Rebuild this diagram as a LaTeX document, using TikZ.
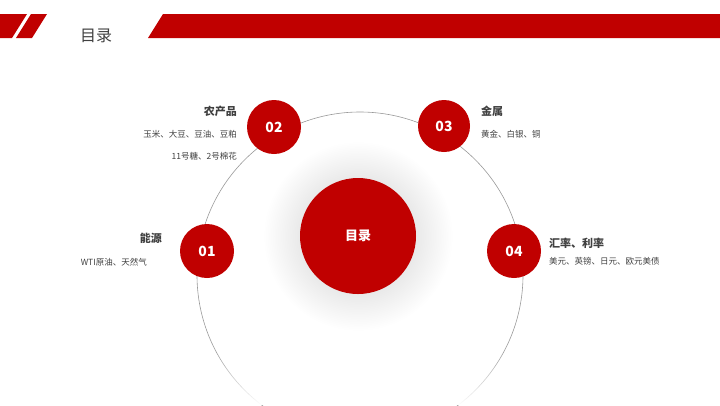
\documentclass[tikz,border=0pt]{standalone}
\usepackage{fontspec}
\setmainfont{Noto Sans CJK SC}
\usetikzlibrary{fadings}
\definecolor{rd}{HTML}{C00000}
\definecolor{tx}{HTML}{404040}
\tikzset{num/.style={circle,fill=rd,minimum size=54pt,inner sep=0,text=white,font=\bfseries\fontsize{14}{14}\selectfont},
head/.style={text=tx,font=\bfseries\fontsize{11}{11}\selectfont,inner sep=0},
sub/.style={text=tx,font=\fontsize{8.5}{8.5}\selectfont,inner sep=0}}
\begin{document}
\begin{tikzpicture}[x=1pt,y=-1pt]
\useasboundingbox (0,0) rectangle (720,405);
\clip (0,0) rectangle (720,405);
\fill[rd] (0,14)--(27,14)--(12,38)--(0,38)--cycle;
\fill[rd] (31,14)--(47,14)--(32,38)--(16,38)--cycle;
\fill[rd] (163,14)--(720,14)--(720,38)--(148,38)--cycle;
\node[text=tx,font=\fontsize{16}{16}\selectfont,inner sep=0] (title) at (96,36) {目录};
\shade[inner color=black!22,outer color=white] (358,236) circle (95);
\draw[gray!80,line width=0.6pt] (360,275) circle (163);
\fill[white,path fading=north] (150,350) rectangle (570,405);
\node[circle,fill=rd,minimum size=116pt,inner sep=0,text=white,font=\bfseries\fontsize{13}{13}\selectfont] (c) at (358,236) {目录};
\node[num] (n1) at (207,251) {01};
\node[num] (n2) at (274,127) {02};
\node[num,minimum size=52pt] (n3) at (444,126) {03};
\node[num] (n4) at (514,251) {04};
\node[head,anchor=east] (h1) at (162,238) {能源};
\node[sub,anchor=east] (s1) at (147,262) {WTI原油、天然气};
\node[head,anchor=east] (h2) at (237,111) {农产品};
\node[sub,anchor=east] (s2) at (237,134) {玉米、大豆、豆油、豆粕};
\node[sub,anchor=east] (s2b) at (237,156) {11号糖、2号棉花};
\node[head,anchor=west] (h3) at (481,111) {金属};
\node[sub,anchor=west] (s3) at (481,134) {黄金、白银、铜};
\node[head,anchor=west] (h4) at (549,243) {汇率、利率};
\node[sub,anchor=west] (s4) at (549,261) {美元、英镑、日元、欧元美债};
\end{tikzpicture}
\end{document}
